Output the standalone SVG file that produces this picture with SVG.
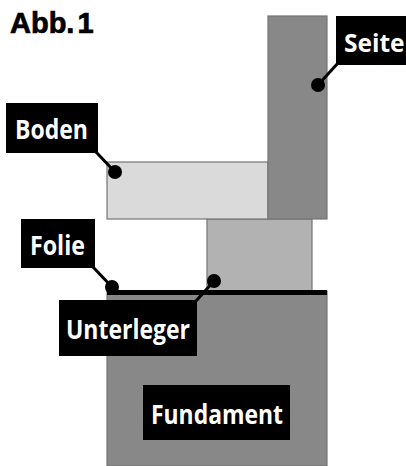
<svg xmlns="http://www.w3.org/2000/svg" width="406" height="466" viewBox="0 0 406 466">
<style>
.part{stroke:#757575;stroke-width:1.2}
.box{fill:#000}
.lbl{font-family:"Open Sans","Noto Sans",sans-serif;font-weight:700;font-size:26px;fill:#fff}
.lead{stroke:#000;stroke-width:3;fill:none}
</style>
<rect width="406" height="466" fill="#fff"/>
<text id="title" x="10" y="33" font-family="'Liberation Sans',Arial,sans-serif" font-weight="700" font-size="29" fill="#000" stroke="#000" stroke-width="0.7" word-spacing="-5">Abb. 1</text>
<g id="fundament"><rect class="part" x="107" y="291" width="220" height="175" fill="#888"/></g>
<g id="unterleger-part"><rect class="part" x="207" y="219" width="105" height="72" fill="#b2b2b2"/></g>
<g id="boden"><rect class="part" x="107" y="162" width="161" height="57" fill="#dadada"/></g>
<g id="seite"><rect class="part" x="268" y="16" width="59" height="203" fill="#888"/></g>
<g id="folie"><rect x="107" y="290" width="220" height="5" fill="#000"/></g>
<g id="connectors">
<path class="lead" d="M96 152L115 172"/>
<path class="lead" d="M338 63L318 85"/>
<path class="lead" d="M92 266L112 287"/>
<path class="lead" d="M196 301L214 281"/>
<circle cx="115" cy="172" r="7"/>
<circle cx="318" cy="85" r="7"/>
<circle cx="112" cy="287" r="7"/>
<circle cx="214" cy="281" r="7"/>
</g>
<g id="label-boden"><rect class="box" x="6" y="103" width="92" height="50"/><text class="lbl" x="15" y="139" textLength="73" lengthAdjust="spacingAndGlyphs">Boden</text></g>
<g id="label-seite"><rect class="box" x="336" y="16" width="70" height="49"/><text class="lbl" x="344" y="52" style="font-size:24.5px">Seite</text></g>
<g id="label-folie"><rect class="box" x="21" y="219" width="74" height="49"/><text class="lbl" x="30" y="255" textLength="55" lengthAdjust="spacingAndGlyphs">Folie</text></g>
<g id="label-unterleger"><rect class="box" x="59" y="300" width="138" height="56"/><text class="lbl" x="66" y="339" textLength="124" lengthAdjust="spacingAndGlyphs">Unterleger</text></g>
<g id="label-fundament"><rect class="box" x="143" y="385" width="147" height="55"/><text class="lbl" x="151" y="424" textLength="132" lengthAdjust="spacingAndGlyphs">Fundament</text></g>
</svg>
